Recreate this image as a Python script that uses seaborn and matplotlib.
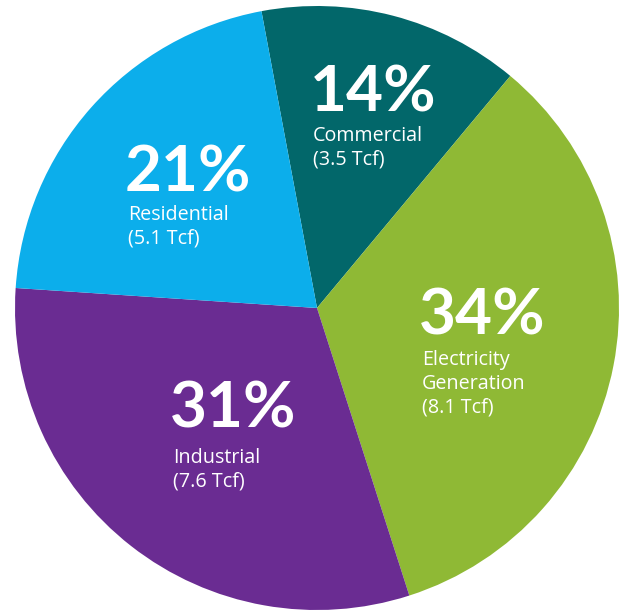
import matplotlib
matplotlib.use("Agg")
import matplotlib.pyplot as plt
import seaborn as sns

# U.S. natural gas consumption by sector
sectors = ["Commercial", "Electricity\nGeneration", "Industrial", "Residential"]
shares = [14, 34, 31, 21]              # percent of total
volumes_tcf = [3.5, 8.1, 7.6, 5.1]     # trillion cubic feet
colors = ["#02676a", "#8fb935", "#6a2c92", "#0caeeb"]

sns.set_theme(style="white")
plt.rcParams["font.family"] = ["Lato", "DejaVu Sans"]
palette = sns.color_palette(colors)

W, H = 621, 612
fig = plt.figure(figsize=(W / 100, H / 100), dpi=100)
fig.patch.set_facecolor("white")

# pie centre and radius in pixels
CX, CY, R = 317, 308, 302
ax = fig.add_axes([(CX - R) / W, (H - CY - R) / H, 2 * R / W, 2 * R / H])

ax.pie(shares, colors=palette, startangle=100.6, counterclock=False,
       radius=1, center=(0, 0), wedgeprops=dict(linewidth=0))
ax.set_xlim(-1, 1)
ax.set_ylim(-1, 1)
ax.set_aspect("equal")
ax.axis("off")


def px(x, y):
    """Pixel position (from the top-left) to pie coordinates."""
    return (x - CX) / R, (CY - y) / R


# left edge, percent baseline, first label baseline (pixels)
anchors = {
    "Commercial": (313, 112, 141),
    "Electricity\nGeneration": (422, 335, 365),
    "Industrial": (173, 428, 463),
    "Residential": (128, 192, 220),
}
line_step = 24

for name, pct, vol in zip(sectors, shares, volumes_tcf):
    x0, y_pct, y_lab = anchors[name]
    ax.text(*px(x0 - 3, y_pct), f"{pct}%", color="white", fontsize=46,
            fontweight="bold", ha="left", va="baseline")
    lines = name.split("\n") + [f"({vol} Tcf)"]
    for i, line in enumerate(lines):
        ax.text(*px(x0, y_lab + i * line_step), line, color="white",
                fontsize=14.2, fontweight="medium",
                family=["Open Sans", "DejaVu Sans"],
                ha="left", va="baseline")

fig.savefig("out.png", dpi=100, facecolor="white")
